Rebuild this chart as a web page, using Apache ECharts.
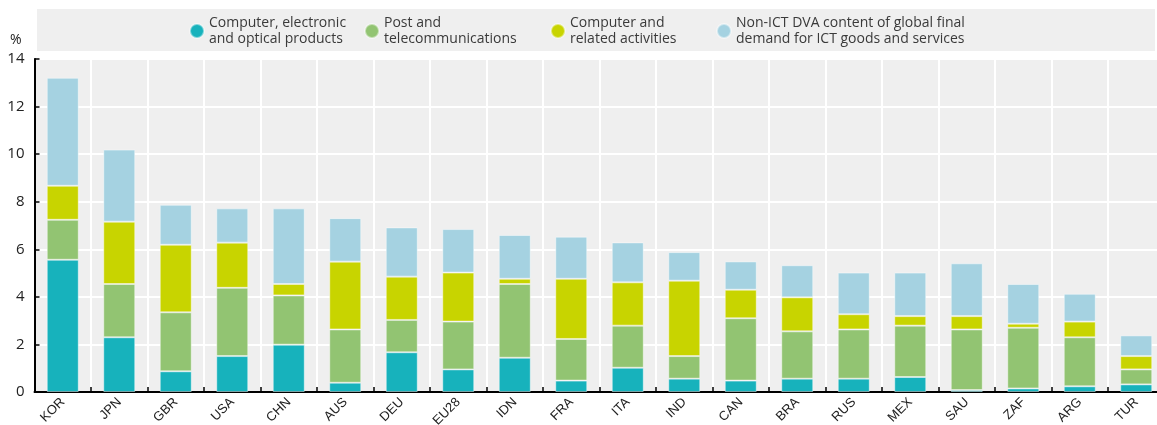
<!DOCTYPE html>
<html><head><meta charset="utf-8">
<script src="https://cdn.jsdelivr.net/npm/echarts@6/dist/echarts.min.js"></script>
<style>html,body{margin:0;padding:0;background:#fff}#c{width:1157px;height:425px}</style>
</head><body><div id="c"></div>
<script>
const categories = ['KOR','JPN','GBR','USA','CHN','AUS','DEU','EU28','IDN','FRA','ITA','IND','CAN','BRA','RUS','MEX','SAU','ZAF','ARG','TUR'];
const seriesNames = ['Computer, electronic\nand optical products','Post and\ntelecommunications','Computer and\nrelated activities','Non-ICT DVA content of global final\ndemand for ICT goods and services'];
const computerElectronic = [5.56,2.30,0.87,1.51,1.99,0.39,1.67,0.95,1.44,0.48,1.02,0.56,0.48,0.56,0.56,0.63,0.08,0.15,0.24,0.32];
const postTelecom        = [1.68,2.24,2.48,2.87,2.07,2.24,1.36,2.01,3.10,1.75,1.77,0.95,2.62,1.99,2.07,2.16,2.55,2.55,2.06,0.63];
const computerRelated    = [1.43,2.62,2.84,1.90,0.48,2.85,1.82,2.06,0.22,2.53,1.82,3.17,1.20,1.43,0.64,0.40,0.56,0.17,0.66,0.56];
const nonICT             = [4.54,3.03,1.68,1.44,3.18,1.83,2.07,1.83,1.84,1.77,1.68,1.20,1.19,1.35,1.75,1.83,2.22,1.67,1.17,0.87];
const yTicks = [0,2,4,6,8,10,12,14];

const colors = ['#17b2bc','#92c472','#c8d400','#a5d2e1'];
const values = [computerElectronic, postTelecom, computerRelated, nonICT];
const legendLeft = [184, 359, 545, 711];

const chart = echarts.init(document.getElementById('c'), null, {renderer:'canvas'});
chart.setOption({
  animation:false,
  textStyle:{fontFamily:'Liberation Sans, Arial, sans-serif'},
  graphic:[
    {type:'rect', shape:{x:37,y:9,width:1118,height:42}, style:{fill:'#efefef'}, z:-10, silent:true},
    {type:'text', left:10, top:33, style:{text:'%', font:'14px "Open Sans", sans-serif', fill:'#222'}}
  ],
  legend: seriesNames.map((n,i)=>({
    data:[{name:n, icon:'circle'}],
    left:legendLeft[i], top:10,
    itemWidth:14, itemHeight:14, itemGap:8,
    textStyle:{fontFamily:'Open Sans, sans-serif', fontSize:14, color:'#3a3a3a', lineHeight:16},
    selectedMode:false
  })),
  grid:{left:34.5, right:-7.5, top:59, bottom:33, show:true, backgroundColor:'#efefef', borderWidth:0, outerBoundsMode:'none'},
  xAxis:{
    type:'category', data:categories,
    axisLine:{lineStyle:{color:'#000', width:2}},
    axisTick:{show:true, inside:true, length:5, alignWithLabel:false, lineStyle:{color:'#000', width:1.5}},
    splitLine:{show:true, lineStyle:{color:'#fff', width:2}},
    axisLabel:{rotate:45, fontSize:13, color:'#222', margin:8, interval:0}
  },
  yAxis:{
    type:'value', min:0, max:14, interval:2,
    axisLine:{show:true, lineStyle:{color:'#000', width:2}},
    axisTick:{show:true, inside:true, length:5, lineStyle:{color:'#000', width:1.5}},
    splitLine:{show:true, lineStyle:{color:'#fff', width:2}},
    axisLabel:{fontSize:15, color:'#222', margin:10, fontFamily:'Open Sans, sans-serif',
      formatter:v=> yTicks.includes(v) ? String(v) : ''}
  },
  series: seriesNames.map((n,i)=>({
    name:n, type:'bar', stack:'total', data:values[i], barWidth:32,
    itemStyle:{color:colors[i], borderColor:'rgba(255,255,255,0.45)', borderWidth:1},
    emphasis:{disabled:true}
  }))
});
</script></body></html>
